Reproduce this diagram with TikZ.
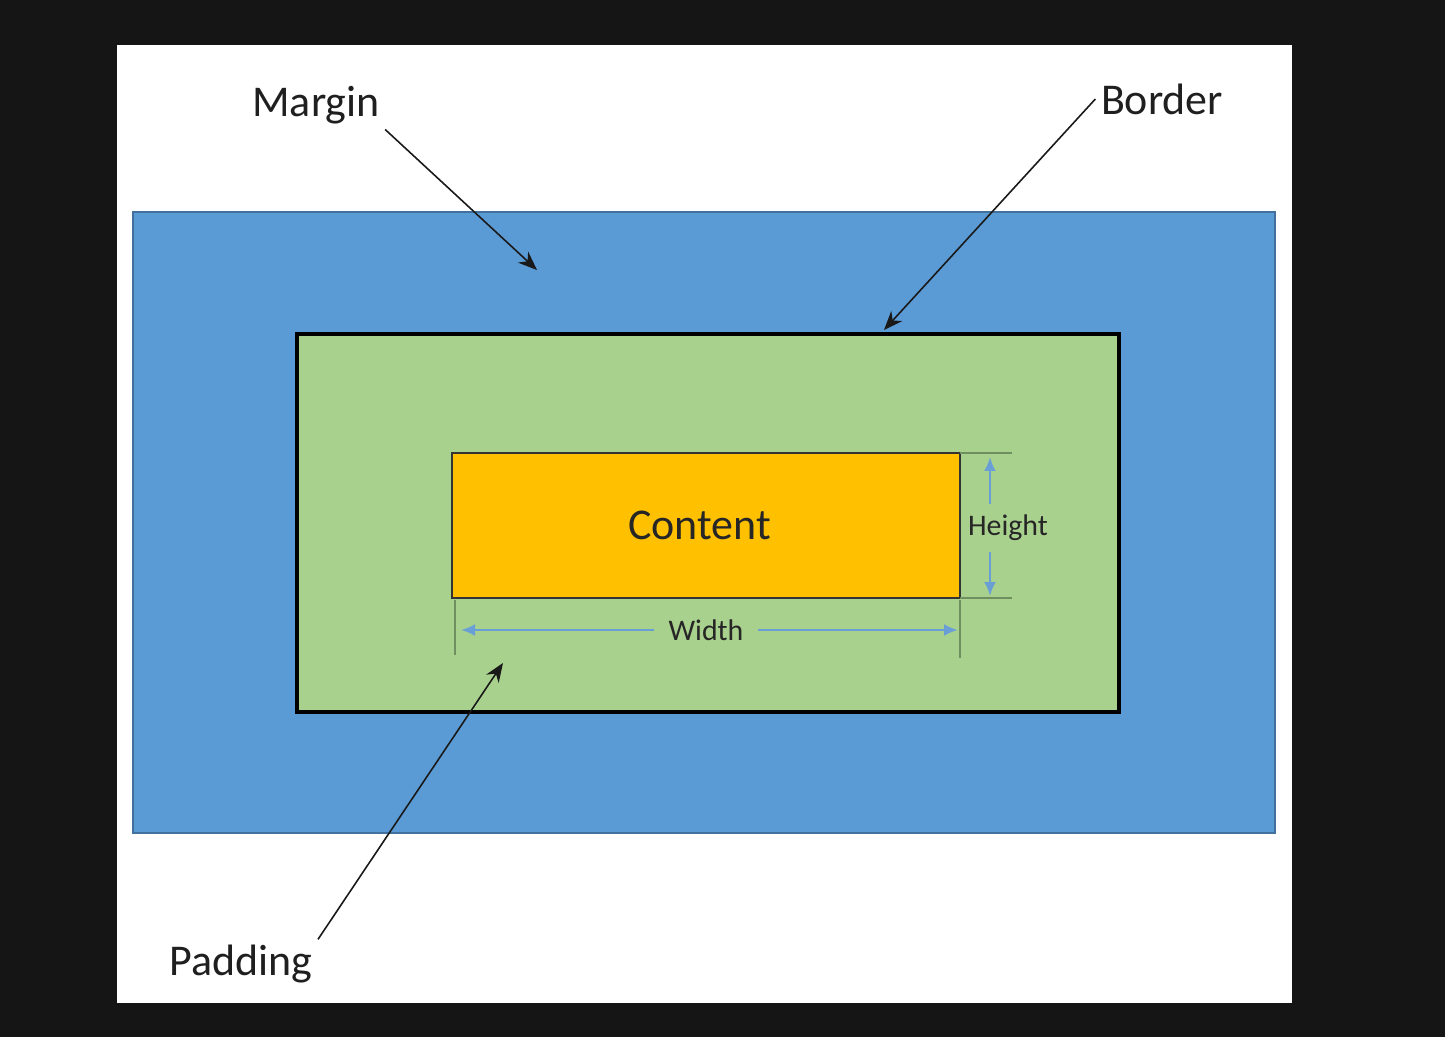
\documentclass[tikz,border=0pt]{standalone}
\usepackage{fontspec}
\setmainfont{Carlito}
\usetikzlibrary{positioning,arrows.meta}
\definecolor{marginblue}{HTML}{5B9BD5}
\definecolor{marginedge}{HTML}{41719C}
\definecolor{paddinggreen}{HTML}{A9D18E}
\definecolor{contentgold}{HTML}{FFC000}
\definecolor{dimblue}{HTML}{6A9FD6}
\definecolor{tickgreen}{HTML}{6F8F60}
\definecolor{screen}{HTML}{151515}
\tikzset {
    style margin/.style={
        fill=marginblue,
        draw=marginedge,
        line width=1pt,
        rectangle, % Set the shape as a rectangle
        anchor=north west,
        inner sep=0pt,
        outer sep=0pt,
        minimum width=22.84cm,
        minimum height=12.42cm,
    },
    style border/.style={
        fill=paddinggreen,
        draw=black,
        line width=2.4pt,
        rectangle, % Set the shape as a rectangle
        anchor=north west,
        inner sep=0pt,
        outer sep=0pt,
        minimum width=16.44cm,
        minimum height=7.56cm,
    },
    style content/.style={
        fill=contentgold,
        draw=black!80,
        line width=0.9pt,
        rectangle, % Set the shape as a rectangle
        anchor=north west,
        inner sep=0pt,
        outer sep=0pt,
        minimum width=10.16cm,
        minimum height=2.9cm,
        text=black!85,
        font=\fontsize{25}{30}\selectfont,
    },
    style label/.style={
        text=black!88,
        inner sep=3pt,
        font=\fontsize{25}{30}\selectfont,
    },
    style dim label/.style={
        text=black!85,
        inner xsep=8pt,
        inner ysep=6pt,
        font=\fontsize{17}{20}\selectfont,
    },
    style pointer/.style={
        draw=black!90,
        line width=0.9pt,
        -{Stealth[length=0.38cm,width=0.3cm]},
    },
    style dim arrow/.style={
        draw=dimblue,
        line width=1.4pt,
        -{Latex[length=0.28cm,width=0.24cm]},
    },
    style tick/.style={
        draw=tickgreen,
        line width=0.8pt,
    },
}
\begin{document}
\begin{tikzpicture}[x=0.02cm, y=-0.02cm]

    % screen and slide
    \fill[screen] (0,0) rectangle (1445,1037);
    \fill[white] (117,45) rectangle (1292,1003);

    % nested boxes
    \node[style margin] (margin box) at (133,212) {};
    \node[style border] (border box) at (297,334) {};
    \node[style content] (content box) at (452,453) {\hspace*{-7pt}Content};

    % dimension ticks
    \draw[style tick] (content box.north east) -- ++(52,0);
    \draw[style tick] (content box.south east) -- ++(52,0);
    \draw[style tick] (455,600) -- (455,655);
    \draw[style tick] (960,600) -- (960,658);

    \coordinate (h top) at (990,457);
    \coordinate (h bot) at (990,596);
    \coordinate (w left) at (461,630);
    \coordinate (w right) at (958,630);

    \node[style dim label] (height label) at (1008,528) {Height};
    \node[style dim label] (width label) at (706,630) {Width};

    \draw[style dim arrow] (h top |- height label.north) -- (h top);
    \draw[style dim arrow] (h bot |- height label.south) -- (h bot);
    \draw[style dim arrow] (width label.west) -- (w left);
    \draw[style dim arrow] (width label.east) -- (w right);

    % callouts
    \node[style label] (margin label) at (316,105) {Margin};
    \node[style label] (border label) at (1162,99) {Border};
    \node[style label] (padding label) at (241,964) {Padding};

    \coordinate (margin tip) at (537,270);
    \coordinate (border tip) at (884,330);
    \coordinate (padding tip) at (503,663);

    \draw[style pointer] (margin label.south east) -- (margin tip);
    \draw[style pointer] (border label.west) -- (border tip);
    \draw[style pointer] (padding label.north east) -- (padding tip);

\end{tikzpicture}
\end{document}
